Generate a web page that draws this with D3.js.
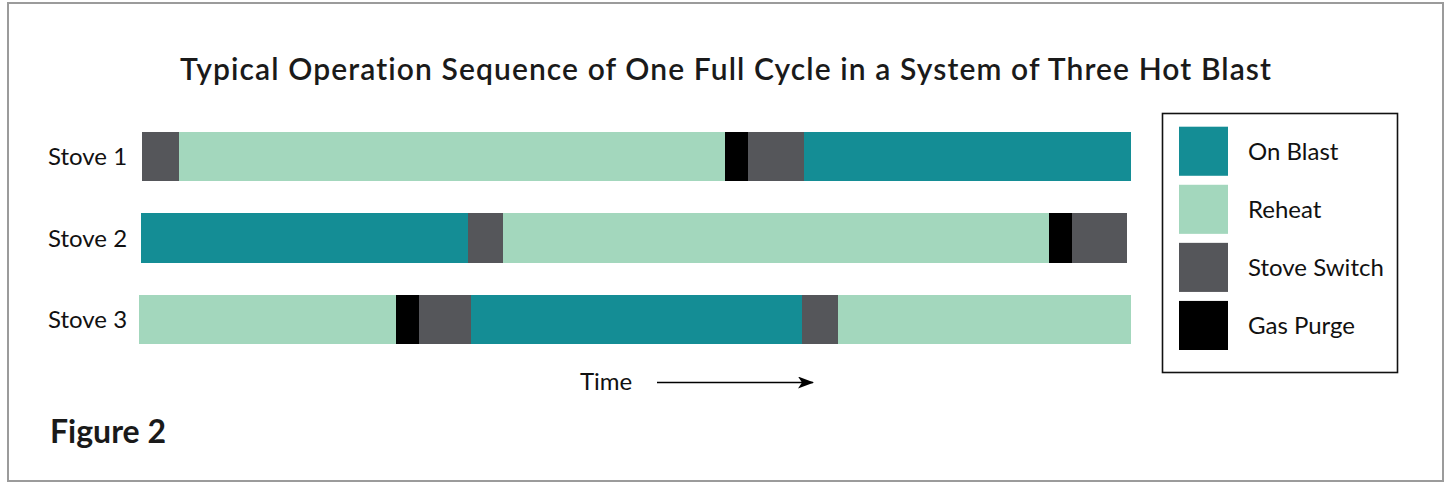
<!DOCTYPE html>
<html><head><meta charset="utf-8">
<script src="https://cdn.jsdelivr.net/npm/d3@7"></script>
<style>
html,body{margin:0;padding:0;background:#fff;}
svg{display:block;font-family:Lato,"Open Sans",sans-serif;}
</style></head>
<body><svg id="chart" width="1446" height="483"></svg>
<script>
const title = "Typical Operation Sequence of One Full Cycle in a System of Three Hot Blast";
const stoves = ["Stove 1", "Stove 2", "Stove 3"];
const phases = ["On Blast", "Reheat", "Stove Switch", "Gas Purge"];
const phaseColors = ["#148d95", "#a3d7bd", "#55565a", "#000000"];
// start time of each stove's first segment (time units)
const stoveStarts = [3, 2, 0];
// sequence of phases and durations per stove
const stove1Phases = ["Stove Switch", "Reheat", "Gas Purge", "Stove Switch", "On Blast"];
const stove1Durations = [37, 546, 23, 56, 327];
const stove2Phases = ["On Blast", "Stove Switch", "Reheat", "Gas Purge", "Stove Switch"];
const stove2Durations = [327, 35, 546, 23, 55];
const stove3Phases = ["Reheat", "Gas Purge", "Stove Switch", "On Blast", "Stove Switch", "Reheat"];
const stove3Durations = [257, 23, 52, 331, 36, 293];
const axisLabel = "Time";
const figureLabel = "Figure 2";

const svg = d3.select("#chart");

svg.append("rect").attr("x", 8).attr("y", 3).attr("width", 1435).attr("height", 478)
  .attr("fill", "#fff").attr("stroke", "#9b9b9b").attr("stroke-width", 2);

const x = d3.scaleLinear().domain([0, 992]).range([139, 1131]);
const y = d3.scaleBand().domain(stoves).range([132, 344]).paddingInner(0.395).paddingOuter(0);
const color = d3.scaleOrdinal().domain(phases).range(phaseColors);

const seqs = [[stove1Phases, stove1Durations], [stove2Phases, stove2Durations], [stove3Phases, stove3Durations]];
const segs = [];
seqs.forEach(([ph, du], i) => {
  let t = stoveStarts[i];
  ph.forEach((p, j) => { segs.push({stove: stoves[i], phase: p, t0: t, t1: t + du[j]}); t += du[j]; });
});

svg.append("g").selectAll("rect").data(segs).join("rect")
  .attr("x", d => x(d.t0)).attr("width", d => x(d.t1) - x(d.t0))
  .attr("y", d => y(d.stove)).attr("height", y.bandwidth())
  .attr("fill", d => color(d.phase))
  .attr("shape-rendering", "crispEdges");

// stove labels
svg.append("g").selectAll("text").data(stoves).join("text")
  .attr("x", 48).attr("y", d => y(d) + y.bandwidth() / 2)
  .attr("dy", "0.36em").attr("font-size", 24).attr("fill", "#111")
  .text(d => d);

// title
svg.append("text").attr("x", 726).attr("y", 80).attr("text-anchor", "middle")
  .attr("font-size", 30).attr("font-weight", 600).attr("letter-spacing", 1.1)
  .attr("fill", "#1a1a1a").text(title);

// legend
const lg = svg.append("g");
lg.append("rect").attr("x", 1162.5).attr("y", 113.5).attr("width", 235).attr("height", 259)
  .attr("fill", "#fff").attr("stroke", "#111").attr("stroke-width", 1.6);
const ly = d3.scaleBand().domain(phases).range([126.7, 350]).paddingInner(0.155).paddingOuter(0);
lg.selectAll("rect.sw").data(phases).join("rect").attr("class", "sw")
  .attr("x", 1179).attr("y", d => ly(d)).attr("width", 49).attr("height", ly.bandwidth())
  .attr("fill", d => color(d));
lg.selectAll("text").data(phases).join("text")
  .attr("x", 1248).attr("y", d => ly(d) + ly.bandwidth() / 2).attr("dy", "0.36em")
  .attr("font-size", 24).attr("fill", "#111").text(d => d);

// time arrow
svg.append("defs").append("marker").attr("id", "ah").attr("viewBox", "0 0 16 12")
  .attr("refX", 15).attr("refY", 6).attr("markerWidth", 16).attr("markerHeight", 12)
  .attr("markerUnits", "userSpaceOnUse").attr("orient", "auto")
  .append("path").attr("d", "M0,0 L16,6 L0,12 L4,6 Z").attr("fill", "#000");
svg.append("text").attr("x", 580).attr("y", 390).attr("font-size", 24).attr("fill", "#111").text(axisLabel);
svg.append("line").attr("x1", 657).attr("x2", 813).attr("y1", 382.5).attr("y2", 382.5)
  .attr("stroke", "#000").attr("stroke-width", 1.5).attr("marker-end", "url(#ah)");

svg.append("text").attr("x", 50).attr("y", 443).attr("font-size", 32).attr("font-weight", 700)
  .attr("fill", "#1a1a1a").text(figureLabel);
</script></body></html>
